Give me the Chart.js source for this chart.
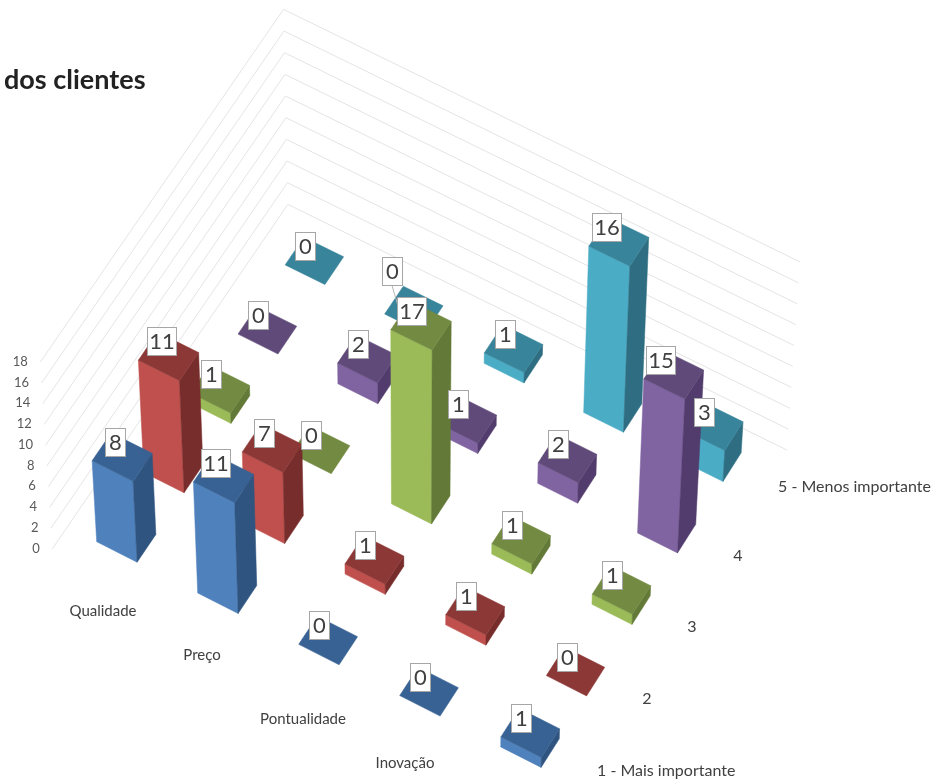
<!DOCTYPE html>
<html>
<head>
<meta charset="utf-8">
<title>dos clientes</title>
<script src="https://cdn.jsdelivr.net/npm/chart.js@4"></script>
<style>
  html, body { margin: 0; padding: 0; background: #fff; }
  canvas { display: block; }
</style>
</head>
<body>
<canvas id="grafico" width="940" height="780"></canvas>
<script>
// the fifth category falls below the edge of the picture, its name can't be read
const categorias = ['Qualidade', 'Preço', 'Pontualidade', 'Inovação', ''];
const series = ['1 - Mais importante', '2', '3', '4', '5 - Menos importante'];
const serie1 = [8, 11, 0, 0, 1];
const serie2 = [11, 7, 1, 1, 0];
const serie3 = [1, 0, 17, 1, 1];
const serie4 = [0, 2, 1, 2, 15];
const serie5 = [0, 0, 1, 16, 3];
const valores = [serie1, serie2, serie3, serie4, serie5];
const ticksValor = [0, 2, 4, 6, 8, 10, 12, 14, 16, 18];

// front, top and side colours of each series
const coresFrente = ['#4f81bd', '#c0504d', '#9bbb59', '#8064a2', '#4bacc6'];
const coresTopo = ['#386293', '#8c3836', '#728a41', '#5f4a79', '#37849b'];
const coresLado = ['#2f5480', '#772d2b', '#627937', '#523c6d', '#2f6e82'];

// label text positions
const posCategorias = [[103, 611], [202, 655], [303, 719], [405, 763]];
const posSeries = [[597, 771, 'left'], [647, 699, 'center'], [692, 627, 'center'], [738, 556, 'center'], [778, 487, 'left']];

// floor limits of the walls, in category/series units
const paredeC = [-0.29, 4.74];
const paredeS = [-0.32, 4.67];
const larguraBarra = 0.4;

// turns category, series and value into a picture position
function projetar(chart, c, s, v, escalaAltura = 1) {
  const { x, s: escalaS, y } = chart.scales;
  const cc = (x.getPixelForValue(c) - x.getPixelForValue(0)) / (x.getPixelForValue(1) - x.getPixelForValue(0));
  const ss = (escalaS.getPixelForValue(s) - escalaS.getPixelForValue(0)) / (escalaS.getPixelForValue(1) - escalaS.getPixelForValue(0));
  const vv = (y.getPixelForValue(0) - y.getPixelForValue(v)) / (y.getPixelForValue(0) - y.getPixelForValue(1));
  const bx = 96.7 + cc * 101 + ss * (47.1 - 0.37 * cc);
  const by = 541.7 + cc * 51.3 + ss * (-69.2 - 0.52 * cc);
  const h = vv * (10.12 + 0.09 * ss - 0.03 * cc) * escalaAltura;
  return [bx + (bx - 412) * 0.00018 * h, by - h];
}

function poligono(ctx, pontos, cor) {
  ctx.beginPath();
  pontos.forEach((p, i) => i ? ctx.lineTo(p[0], p[1]) : ctx.moveTo(p[0], p[1]));
  ctx.closePath();
  ctx.fillStyle = cor;
  ctx.strokeStyle = cor;
  ctx.lineWidth = 0.5;
  ctx.fill();
  ctx.stroke();
}

function desenharBarra(chart, c, s, v) {
  const ctx = chart.ctx;
  const w = larguraBarra;
  const p = (cc, ss, vv) => projetar(chart, cc, ss, vv);
  if (v > 0) {
    poligono(ctx, [p(c, s, 0), p(c + w, s, 0), p(c + w, s, v), p(c, s, v)], coresFrente[s]);
    poligono(ctx, [p(c + w, s, 0), p(c + w, s + w, 0), p(c + w, s + w, v), p(c + w, s, v)], coresLado[s]);
  }
  poligono(ctx, [p(c, s, v), p(c + w, s, v), p(c + w, s + w, v), p(c, s + w, v)], coresTopo[s]);
}

function desenharRotulo(chart, c, s, v) {
  const ctx = chart.ctx;
  const topo = projetar(chart, c, s, v);
  // tall bars lean away from the middle, their labels follow by half of that
  let cx = topo[0] + 20.3 + (412 - topo[0]) * 0.00093 * v;
  let cy = topo[1] - 19;
  // this one was moved away from the tall green bar, with a leader line
  if (c === 1 && s === 4) {
    cx -= 13;
    cy -= 24;
    ctx.beginPath();
    ctx.moveTo(cx, cy + 14);
    ctx.lineTo(403, 323);
    ctx.strokeStyle = '#b5b5b5';
    ctx.lineWidth = 1;
    ctx.stroke();
  }
  const texto = String(v);
  const largura = texto.length > 1 ? 29 : 20;
  const esquerda = Math.round(cx - largura / 2);
  const cima = Math.round(cy - 14);
  ctx.fillStyle = '#ffffff';
  ctx.fillRect(esquerda, cima, largura, 28);
  ctx.strokeStyle = '#a6a6a6';
  ctx.lineWidth = 1;
  ctx.strokeRect(esquerda + 0.5, cima + 0.5, largura, 28);
  ctx.fillStyle = '#404040';
  ctx.font = '22px Lato';
  ctx.textAlign = 'center';
  ctx.textBaseline = 'middle';
  ctx.fillText(texto, esquerda + largura / 2 + 0.5, cima + 15);
}

const barras3d = {
  id: 'barras3d',
  afterDatasetsDraw(chart) {
    const ctx = chart.ctx;
    ctx.save();

    // gridlines on the two walls
    ticksValor.forEach(t => {
      const a = projetar(chart, paredeC[0], paredeS[0], t, 1.027);
      const b = projetar(chart, paredeC[0], paredeS[1], t, 1.027);
      const d = projetar(chart, paredeC[1], paredeS[1], t, 1.006);
      ctx.beginPath();
      ctx.moveTo(a[0], a[1]);
      ctx.lineTo(b[0], b[1]);
      ctx.lineTo(d[0], d[1]);
      ctx.strokeStyle = '#e4e4e4';
      ctx.lineWidth = 1;
      ctx.stroke();

      ctx.fillStyle = '#595959';
      ctx.font = '13px Lato';
      ctx.textAlign = 'right';
      ctx.textBaseline = 'middle';
      ctx.fillText(String(t), a[0] - 12.5, a[1] - 0.5);
    });

    // back to front so nearer bars cover the others
    for (let s = series.length - 1; s >= 0; s--) {
      categorias.forEach((_, c) => desenharBarra(chart, c, s, valores[s][c]));
    }
    for (let s = series.length - 1; s >= 0; s--) {
      categorias.forEach((_, c) => desenharRotulo(chart, c, s, valores[s][c]));
    }

    ctx.fillStyle = '#404040';
    ctx.textBaseline = 'middle';
    ctx.font = '15px Lato';
    ctx.textAlign = 'center';
    posCategorias.forEach((pos, i) => ctx.fillText(categorias[i], pos[0], pos[1]));
    ctx.font = '16px Lato';
    posSeries.forEach((pos, i) => {
      ctx.textAlign = pos[2];
      ctx.fillText(series[i], pos[0], pos[1]);
    });
    ctx.restore();
  }
};

new Chart(document.getElementById('grafico'), {
  type: 'bar',
  data: {
    labels: categorias,
    datasets: series.map((nome, i) => ({
      label: nome,
      data: valores[i],
      backgroundColor: 'transparent'
    }))
  },
  options: {
    responsive: false,
    animation: false,
    layout: { padding: { left: 4 } },
    scales: {
      x: { display: false },
      y: { display: false, min: 0, max: 18 },
      s: { type: 'linear', axis: 'x', display: false, min: 0, max: 4 }
    },
    plugins: {
      legend: { display: false },
      tooltip: { enabled: false },
      title: {
        display: true,
        text: 'dos clientes',
        align: 'start',
        color: '#222222',
        font: { family: 'Lato', size: 27, weight: 'bold' },
        padding: { top: 64, bottom: 0 }
      }
    }
  },
  plugins: [barras3d]
});
</script>
</body>
</html>
